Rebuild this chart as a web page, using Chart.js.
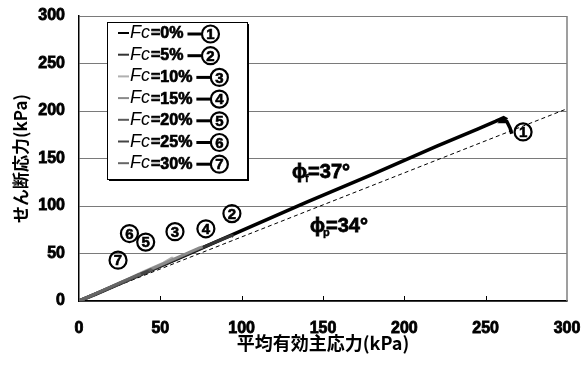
<!DOCTYPE html>
<html>
<head>
    <meta charset="utf-8">
    <title>せん断応力と平均有効主応力</title>
    <script src="https://cdn.jsdelivr.net/npm/chart.js"></script>
    <style>
        body {
            margin: 0;
            background: #fff;
        }
        #wrap {
            width: 581px;
            height: 365px;
        }
    </style>
</head>
<body>
    <div id="wrap">
        <canvas id="pathChart" width="581" height="365"></canvas>
    </div>

    <script>
        // fines content of each specimen
        const fcLabels = ['0%', '5%', '10%', '15%', '20%', '25%', '30%'];
        const marks = ['1', '2', '3', '4', '5', '6', '7'];

        // effective stress paths: p' (kPa) and q (kPa), one list per specimen
        const pathP = [
            [0, 10, 30, 60, 100, 140, 180, 220, 245, 256, 261, 262, 260, 263, 265, 266],
            [0, 20, 45, 70, 88, 94, 95],
            [0, 20, 40, 52, 57, 58],
            [0, 20, 45, 65, 74, 76],
            [0, 15, 30, 40, 44, 45],
            [0, 15, 30, 39, 42, 43],
            [0, 12, 25, 33, 37, 38]
        ];
        const pathQ = [
            [0, 7, 22, 44, 74, 104, 133, 163, 181, 189, 193, 192, 189, 189, 182, 176],
            [0, 15, 33, 52, 65, 69, 68],
            [0, 15, 31, 40, 45, 45],
            [0, 15, 34, 49, 56, 57],
            [0, 11, 22, 30, 33, 32],
            [0, 11, 22, 29, 31, 30],
            [0, 9, 19, 25, 28, 27]
        ];
        const pathColors = ['#000000', '#333333', '#b0b0b0', '#8a8a8a', '#5a5a5a', '#444444', '#666666'];

        // where each circled number sits (p', q)
        const markAt = [[273, 178], [94, 92], [59, 73], [78, 76], [41, 62], [31, 71], [24, 43]];

        // friction angles
        const phiF = 37;
        const phiP = 34;
        const axisTicks = [0, 50, 100, 150, 200, 250, 300];

        const latin = 'Arial, "Liberation Sans", sans-serif';
        const jpFont = '"Noto Sans CJK JP", sans-serif';

        const datasets = pathP.map((ps, i) => ({
            label: 'Fc=' + fcLabels[i],
            data: ps.map((p, k) => ({ x: p, y: pathQ[i][k] })),
            borderColor: pathColors[i],
            borderWidth: i === 0 ? 3.5 : 3,
            pointRadius: 0,
            tension: 0,
            order: i === 0 ? 10 : 7 - i
        }));

        // peak friction line q = p' tan(phi_p)
        const tanP = Math.tan(phiP * Math.PI / 180);
        datasets.push({
            label: 'phi_p',
            data: [{ x: 0, y: 0 }, { x: 300, y: 300 * tanP }],
            borderColor: '#000',
            borderWidth: 1,
            borderDash: [4, 3],
            pointRadius: 0,
            order: 20
        });

        // heavy text: fill plus a thin outline
        function boldText(ctx, s, x, y, w) {
            ctx.lineWidth = w;
            ctx.strokeStyle = '#000';
            ctx.fillText(s, x, y);
            ctx.strokeText(s, x, y);
        }

        function drawMark(ctx, cx, cy, n) {
            ctx.strokeStyle = '#000';
            ctx.lineWidth = 2.2;
            ctx.beginPath();
            ctx.arc(cx, cy, 8.5, 0, Math.PI * 2);
            ctx.stroke();
            ctx.fillStyle = '#000';
            ctx.font = 'bold 15px ' + latin;
            ctx.textAlign = 'center';
            ctx.textBaseline = 'middle';
            boldText(ctx, n, cx, cy + 1, 0.6);
        }

        function drawPhi(ctx, x, y, sub, text) {
            ctx.fillStyle = '#000';
            ctx.textAlign = 'left';
            ctx.textBaseline = 'alphabetic';
            ctx.font = 'bold 20px ' + latin;
            boldText(ctx, 'ϕ', x, y, 0.8);
            ctx.font = 'bold 11px ' + latin;
            boldText(ctx, sub, x + 13, y + 4, 0.4);
            ctx.font = 'bold 20px ' + latin;
            boldText(ctx, text, x + 16, y, 0.8);
        }

        const pathNotes = {
            id: 'pathNotes',
            afterDatasetsDraw(chart) {
                const { ctx, chartArea: a, scales: { x, y } } = chart;
                ctx.save();

                // right side of the frame and inner tick marks on p' axis
                ctx.strokeStyle = '#7f7f7f';
                ctx.lineWidth = 1.5;
                ctx.beginPath();
                ctx.moveTo(a.right, a.top);
                ctx.lineTo(a.right, a.bottom);
                ctx.stroke();
                ctx.strokeStyle = '#000';
                ctx.lineWidth = 1;
                axisTicks.slice(1, -1).forEach(t => {
                    const px = Math.round(x.getPixelForValue(t)) + 0.5;
                    ctx.beginPath();
                    ctx.moveTo(px, a.bottom);
                    ctx.lineTo(px, a.bottom - 5);
                    ctx.stroke();
                });

                // circled specimen numbers
                markAt.forEach((m, i) => {
                    drawMark(ctx, x.getPixelForValue(m[0]), y.getPixelForValue(m[1]), marks[i]);
                });

                drawPhi(ctx, x.getPixelForValue(131), y.getPixelForValue(129.5), 'f', '=' + phiF + '°');
                drawPhi(ctx, x.getPixelForValue(142), y.getPixelForValue(72.5), 'p', '=' + phiP + '°');

                // legend box
                const bx = 107, by = 22, bw = 140, bh = 157;
                ctx.fillStyle = '#000';
                ctx.fillRect(bx + 2, by + 2, bw, bh);
                ctx.fillStyle = '#fff';
                ctx.fillRect(bx, by, bw, bh);
                ctx.strokeStyle = '#000';
                ctx.lineWidth = 1;
                ctx.strokeRect(bx + 0.5, by + 0.5, bw, bh);

                fcLabels.forEach((fc, i) => {
                    const ry = 33 + i * 21.7;
                    ctx.strokeStyle = pathColors[i];
                    ctx.lineWidth = 2;
                    ctx.beginPath();
                    ctx.moveTo(118, ry);
                    ctx.lineTo(129, ry);
                    ctx.stroke();

                    ctx.fillStyle = '#000';
                    ctx.textAlign = 'left';
                    ctx.textBaseline = 'middle';
                    ctx.font = 'italic 18px ' + latin;
                    ctx.fillText('Fc', 130, ry);
                    let tx = 130 + ctx.measureText('Fc').width + 1;
                    ctx.font = 'bold 16px ' + latin;
                    boldText(ctx, '=' + fc, tx, ry + 1, 0.7);
                    tx += ctx.measureText('=' + fc).width + 4;

                    ctx.strokeStyle = '#000';
                    ctx.lineWidth = 3;
                    ctx.beginPath();
                    ctx.moveTo(tx, ry + 1);
                    ctx.lineTo(tx + 14, ry + 1);
                    ctx.stroke();

                    drawMark(ctx, tx + 23, ry + 1, marks[i]);
                });

                ctx.restore();
            }
        };

        const tickStyle = {
            font: { size: 16, weight: 'bold', family: latin },
            color: '#000',
            textStrokeColor: '#000',
            textStrokeWidth: 0.8
        };

        new Chart(document.getElementById('pathChart'), {
            type: 'line',
            data: { datasets },
            options: {
                responsive: false,
                devicePixelRatio: 1,
                animation: false,
                layout: { padding: { top: 16, right: 14, left: 0, bottom: 0 } },
                plugins: {
                    legend: { display: false },
                    tooltip: { enabled: false }
                },
                scales: {
                    x: {
                        type: 'linear',
                        min: 0,
                        max: 300,
                        afterBuildTicks: s => { s.ticks = axisTicks.map(v => ({ value: v })); },
                        afterFit: s => { s.height = 64; s.paddingLeft = 0; s.paddingRight = 0; },
                        grid: { drawOnChartArea: false, drawTicks: false },
                        border: { color: '#000', width: 1.5 },
                        ticks: { ...tickStyle, padding: 18, maxRotation: 0 },
                        title: {
                            display: true,
                            text: '平均有効主応力(kPa)',
                            color: '#000',
                            font: { size: 18, weight: 'bold', family: jpFont },
                            padding: { top: 0, bottom: 11 }
                        }
                    },
                    y: {
                        type: 'linear',
                        min: 0,
                        max: 300,
                        afterBuildTicks: s => { s.ticks = axisTicks.map(v => ({ value: v })); },
                        afterFit: s => { s.width = 79; s.paddingTop = 0; s.paddingBottom = 0; },
                        grid: { color: '#7a7a7a', lineWidth: 1, drawTicks: false },
                        border: { color: '#000', width: 1.5 },
                        ticks: { ...tickStyle, padding: 14 },
                        title: {
                            display: true,
                            text: 'せん断応力(kPa)',
                            color: '#000',
                            font: { size: 17, weight: 'bold', family: jpFont },
                            padding: { top: 10, bottom: 0 }
                        }
                    }
                }
            },
            plugins: [pathNotes]
        });
    </script>
</body>
</html>
